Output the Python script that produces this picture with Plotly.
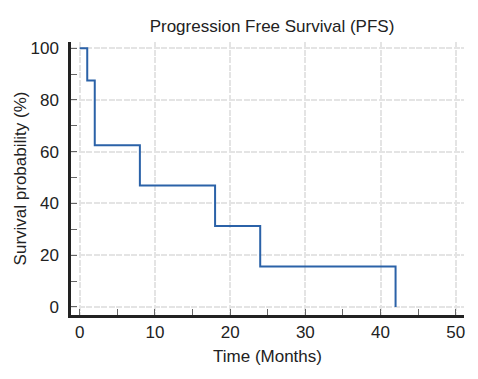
import plotly.graph_objects as go

# Kaplan-Meier step data (time in months, survival %)
times = [0, 1, 2, 8, 18, 24, 42]
survival = [100, 87.5, 62.5, 46.9, 31.25, 15.6, 0]

x_ticks = [0, 10, 20, 30, 40, 50]
y_ticks = [0, 20, 40, 60, 80, 100]
x_minor = [5, 15, 25, 35, 45]
y_minor = [10, 30, 50, 70, 90]

fig = go.Figure()
fig.add_trace(go.Scatter(
    x=times, y=survival, mode="lines",
    line=dict(color="#2b62a8", width=2, shape="hv"),
    showlegend=False, hoverinfo="skip"))

# the page body adds an 8px offset, so margins are shifted by 8px
font_family = "Liberation Sans, Arial, sans-serif"
fig.update_layout(
    width=478, height=379,
    margin=dict(l=63, r=22, t=34, b=72, autoexpand=False),
    paper_bgcolor="white", plot_bgcolor="white",
    font=dict(family=font_family, size=17, color="#222"),
    title=dict(text="Progression Free Survival (PFS)", x=264/478, xanchor="center",
               y=1 - 18/379, yanchor="middle", font=dict(size=17, color="#222")),
)
grid = dict(showgrid=True, gridcolor="#e4e4e4", gridwidth=2, griddash="6px,1.5px")
fig.update_xaxes(
    range=[-1.16, 51.1], tickvals=x_ticks, ticktext=[str(v) for v in x_ticks],
    showline=True, linecolor="#222", linewidth=2.5, mirror=False,
    ticks="inside", ticklen=6, tickcolor="#666", tickwidth=1,
    minor=dict(tickvals=x_minor, ticks="inside", ticklen=6, tickcolor="#666", showgrid=False),
    zeroline=False, automargin=False,
    title=dict(text="Time (Months)", font=dict(size=17), standoff=9),
    ticklabelstandoff=0,
    **grid,
)
fig.update_yaxes(
    range=[-3.1, 102.4], tickvals=y_ticks, ticktext=[str(v) for v in y_ticks],
    showline=True, linecolor="#222", linewidth=2.5, mirror=False,
    ticks="inside", ticklen=6, tickcolor="#666", tickwidth=1,
    minor=dict(tickvals=y_minor, ticks="inside", ticklen=6, tickcolor="#666", showgrid=False),
    zeroline=False, automargin=False,
    title=dict(text="Survival probability (%)", font=dict(size=17), standoff=0),
    ticklabelstandoff=6,
    **grid,
)

fig.write_html("out.html")
